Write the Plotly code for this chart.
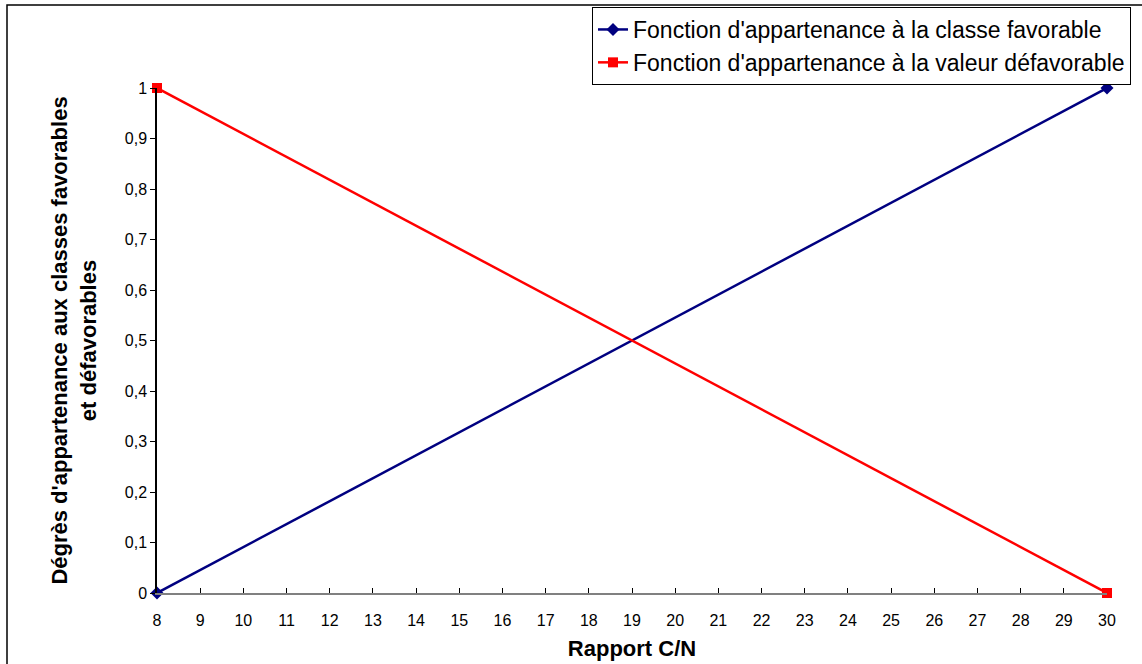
import plotly.graph_objects as go

# Rapport C/N
rapport_cn = [8, 30]
favorable = [0, 1]
defavorable = [1, 0]

x_ticks = list(range(8, 31))
y_ticks = [0, 0.1, 0.2, 0.3, 0.4, 0.5, 0.6, 0.7, 0.8, 0.9, 1]

W, H = 1142, 664
L, R, T, B = 157, 35, 88, 71
pw, ph = W - L - R, H - T - B


def px(x):
    return (x - L) / pw


def py(y):
    return (H - B - y) / ph


fig = go.Figure()
fig.add_trace(go.Scatter(x=rapport_cn, y=favorable, mode='lines+markers',
                         name="Fonction d'appartenance à la classe favorable",
                         line=dict(color='#000080', width=2.5),
                         marker=dict(symbol='diamond', size=10, color='#000080'),
                         cliponaxis=False))
fig.add_trace(go.Scatter(x=rapport_cn, y=defavorable, mode='lines+markers',
                         name="Fonction d'appartenance à la valeur défavorable",
                         line=dict(color='#FF0000', width=2.5),
                         marker=dict(symbol='square', size=10, color='#FF0000'),
                         cliponaxis=False))

# cadre du graphique
fig.add_shape(type='rect', xref='paper', yref='paper',
              x0=px(7), x1=px(1160), y0=py(680), y1=py(5),
              line=dict(color='black', width=1.5), layer='below')

fig.update_layout(
    width=W, height=H,
    margin=dict(l=L, r=R, t=T, b=B, autoexpand=False),
    paper_bgcolor='white', plot_bgcolor='white',
    separators=', ',
    font=dict(family='Liberation Sans, Arial', size=16, color='black'),
    showlegend=True,
    legend=dict(x=px(1131), y=py(7), xanchor='right', yanchor='top',
                bgcolor='white', bordercolor='black', borderwidth=1,
                font=dict(size=23), tracegroupgap=0, itemwidth=30,
                traceorder='normal'),
    xaxis=dict(range=[8, 30], tickvals=x_ticks, showgrid=False, zeroline=False,
               showline=True, linecolor='#808080', linewidth=1.5,
               ticks='inside', ticklen=5, tickcolor='black',
               ticklabelstandoff=12,
               title=dict(text='<b>Rapport C/N</b>', font=dict(size=22), standoff=13)),
    yaxis=dict(range=[0, 1], tickvals=y_ticks, tickformat='.1~f',
               showgrid=False, zeroline=False,
               showline=True, linecolor='black', linewidth=1.5,
               ticks='outside', ticklen=5, tickcolor='black',
               title=dict(text="<b>Dégrès d'appartenance aux classes favorables<br>et défavorables</b>",
                          font=dict(size=22), standoff=22)),
)

fig.write_html("out.html", config={'displayModeBar': False},
               post_script="document.body.style.margin='0';")
